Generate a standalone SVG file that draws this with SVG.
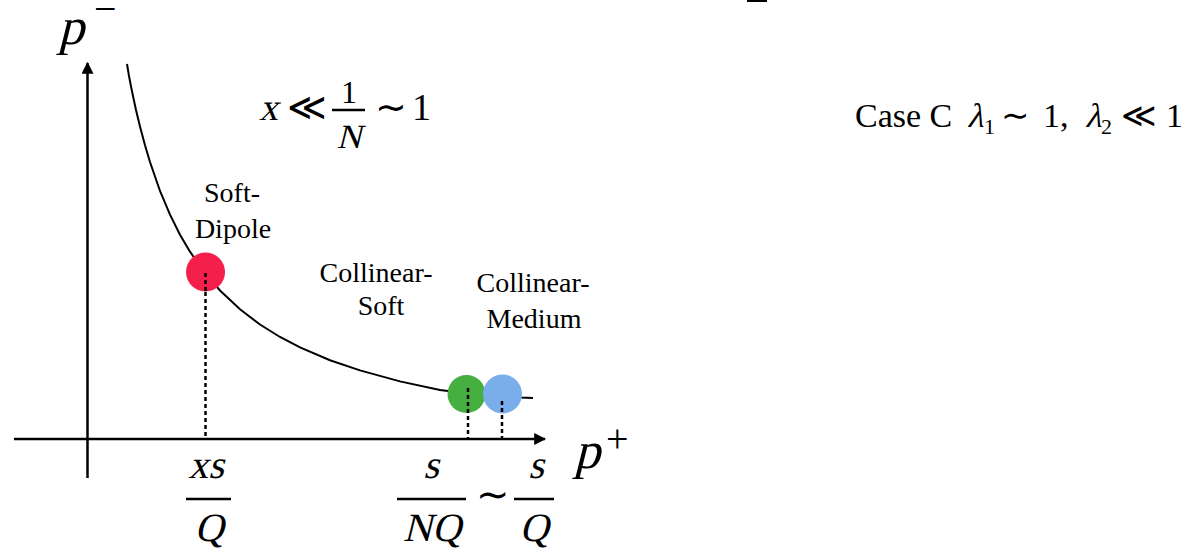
<svg xmlns="http://www.w3.org/2000/svg" width="1186" height="552" viewBox="0 0 1186 552">
<style>
.m{font-family:"Liberation Serif","Times New Roman",serif;fill:#000}
.r{font-family:"Liberation Serif","Times New Roman",serif;fill:#000}
.lab{font-family:"Liberation Serif","Times New Roman",serif;font-size:28px;fill:#000;text-anchor:middle}
.ax{stroke:#000;stroke-width:2.5;fill:none}
.dot{stroke:#000;stroke-width:2.5;stroke-dasharray:4 3;fill:none}
.bar{stroke:#000;stroke-width:2.5}
</style>
<defs>
<marker id="arr" viewBox="0 0 10 10" refX="9" refY="5" markerWidth="12" markerHeight="12" markerUnits="userSpaceOnUse" orient="auto">
<path d="M0,0 L10,5 L0,10 Z" fill="#000"/>
</marker>
</defs>
<rect width="1186" height="552" fill="#fff"/>
<rect x="747" y="-1" width="20" height="3" fill="#000"/>
<g id="axes">
<line class="ax" x1="87.5" y1="478" x2="87.5" y2="63" marker-end="url(#arr)"/>
<line class="ax" x1="14" y1="439" x2="545" y2="439" marker-end="url(#arr)"/>
</g>
<g id="connectors">
<polyline fill="none" stroke="#000" stroke-width="2" points="127,64 129,76 131,86.4 133,96 136,110 140,126.5 145,145.3 150,162 160,191 170,214.7 180,234.7 190,251.7 205,273 220,290.5 240,309.3 260,324.5 280,337 300,347.4 330,360.2 360,370.4 400,381.4 440,390 480,395 520,397.5 533,398"/>
<line class="dot" x1="205.5" y1="271" x2="205.5" y2="439"/>
</g>
<g id="soft-dipole">
<circle cx="205.5" cy="272" r="19.5" fill="#F41F4A"/>
<line class="dot" x1="205.5" y1="273" x2="205.5" y2="292"/>
<text class="lab" x="232" y="202">Soft-</text>
<text class="lab" x="233" y="238">Dipole</text>
</g>
<g id="collinear-soft">
<text class="lab" x="376" y="282">Collinear-</text>
<text class="lab" x="381" y="315">Soft</text>
</g>
<g id="collinear-medium">
<circle cx="466.5" cy="394" r="19" fill="#45B03F"/>
<circle cx="502.5" cy="394" r="19.5" fill="#7AAEEB"/>
<line class="dot" x1="468" y1="388" x2="468" y2="439"/>
<line class="dot" x1="502" y1="401" x2="502" y2="439"/>
<text class="lab" x="533" y="292">Collinear-</text>
<text class="lab" x="534" y="328">Medium</text>
</g>
<g id="labels">
<text class="m" transform="translate(58,44) skewX(-14)" font-size="52">p</text>
<text class="r" x="94" y="22" font-size="40">−</text>
<text class="m" transform="translate(574,468) skewX(-14)" font-size="52">p</text>
<text class="r" x="606" y="452" font-size="40">+</text>
<text class="m" transform="translate(259,120) skewX(-14)" font-size="38">x</text>
<text class="r" x="287" y="120" font-size="38">≪</text>
<text class="r" x="349" y="103" font-size="32" text-anchor="middle">1</text>
<line class="bar" x1="332" y1="110" x2="365" y2="110"/>
<text class="m" transform="translate(349,148) skewX(-14)" font-size="34" text-anchor="middle">N</text>
<text class="r" x="375" y="120" font-size="38">∼</text>
<text class="r" x="412" y="120" font-size="38">1</text>
<text class="m" transform="translate(206,478) skewX(-14)" font-size="40" text-anchor="middle">xs</text>
<line class="bar" x1="186" y1="499" x2="231" y2="499"/>
<text class="m" transform="translate(209,541) skewX(-14)" font-size="40" text-anchor="middle">Q</text>
<text class="m" transform="translate(431,478) skewX(-14)" font-size="40" text-anchor="middle">s</text>
<line class="bar" x1="397" y1="499" x2="466" y2="499"/>
<text class="m" transform="translate(432,541) skewX(-14)" font-size="40" text-anchor="middle">NQ</text>
<text class="r" x="493" y="508" font-size="40" text-anchor="middle">∼</text>
<text class="m" transform="translate(536,478) skewX(-14)" font-size="40" text-anchor="middle">s</text>
<line class="bar" x1="514" y1="499" x2="554" y2="499"/>
<text class="m" transform="translate(534,541) skewX(-14)" font-size="40" text-anchor="middle">Q</text>
</g>
<g id="case-c">
<text class="r" x="855" y="127" font-size="34">Case C</text>
<text class="m" transform="translate(967,127) skewX(-14)" font-size="34">λ</text>
<text class="r" x="984" y="134" font-size="22">1</text>
<text class="r" x="1001" y="127" font-size="34">∼</text>
<text class="r" x="1043" y="127" font-size="34">1,</text>
<text class="m" transform="translate(1085,127) skewX(-14)" font-size="34">λ</text>
<text class="r" x="1101" y="134" font-size="22">2</text>
<text class="r" x="1121" y="127" font-size="34">≪</text>
<text class="r" x="1166" y="127" font-size="34">1</text>
</g>
</svg>
